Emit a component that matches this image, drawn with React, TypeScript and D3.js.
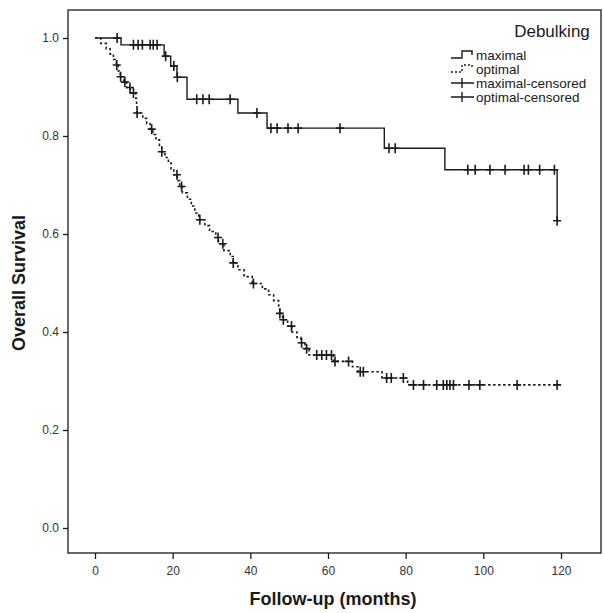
import { useEffect, useRef } from 'react';
import * as d3 from 'd3';

// Kaplan-Meier steps: month of event and survival after it
const maximalEventMonths = [6.7, 17.8, 19.5, 21.1, 23.7, 36.8, 44.3, 74.5, 90.1, 119];
const maximalSurvival = [0.986, 0.963, 0.943, 0.92, 0.875, 0.847, 0.816, 0.775, 0.731, 0.627];
const maximalCensored = [5.7, 9.9, 11.1, 12.2, 14.2, 15.0, 16.0, 18.2, 20.3, 21.2, 26.2, 27.8, 29.4, 34.8, 41.7,
  45.3, 46.9, 49.7, 52.3, 63.1, 75.7, 77.3, 96, 97.9, 101.7, 105.6, 110.5, 111.6, 114.5, 118.3, 119];

const optimalEventMonths = [1.5, 2.9, 3.9, 4.75, 5.5, 6.0, 6.5, 7.4, 8.1, 9.1, 10.5, 10.7, 10.8, 12.3, 13.3, 14.2,
  14.9, 15.7, 16.6, 17.2, 18.0, 18.9, 19.6, 20.3, 21.2, 21.8, 22.5, 23.8, 24.8, 25.7, 26.7, 28.3, 29.5, 31.1,
  31.8, 33.2, 34.8, 35.6, 36.8, 38.4, 40.5, 43.1, 44.7, 46.0, 47.3, 47.6, 48.3, 49.6, 50.7, 52.0, 53.0, 54.1,
  55.1, 61.4, 66.3, 67.7, 73.9, 80.5];
const optimalSurvival = [0.989, 0.978, 0.967, 0.956, 0.945, 0.933, 0.921, 0.91, 0.899, 0.888, 0.877, 0.862, 0.847,
  0.836, 0.825, 0.814, 0.803, 0.792, 0.78, 0.768, 0.756, 0.745, 0.733, 0.721, 0.709, 0.697, 0.684, 0.671, 0.657,
  0.643, 0.629, 0.617, 0.605, 0.593, 0.58, 0.566, 0.554, 0.541, 0.527, 0.513, 0.499, 0.488, 0.476, 0.464, 0.451,
  0.438, 0.425, 0.412, 0.4, 0.389, 0.378, 0.366, 0.353, 0.34, 0.329, 0.319, 0.306, 0.292];
const optimalCensored = [5.6, 6.6, 7.7, 9.0, 9.9, 10.85, 14.6, 17.2, 21.1, 22.3, 27.0, 31.7, 32.9, 35.6, 40.8, 47.6,
  48.5, 50.6, 53.2, 54.5, 57.1, 58.4, 59.6, 60.9, 61.8, 65.3, 68.3, 69.1, 75.1, 76.3, 79.4, 82.0, 84.6, 88.0,
  89.7, 90.6, 91.4, 92.3, 96.3, 99.1, 108.7, 119];

const xTicks = [0, 20, 40, 60, 80, 100, 120];
const yTicks = [0, 0.2, 0.4, 0.6, 0.8, 1.0];
const legendLabels = ['maximal', 'optimal', 'maximal-censored', 'optimal-censored'];

const W = 604;
const H = 613;
const FONT = '"Liberation Sans", Arial, sans-serif';
const INK = '#1a1a1a';

export default function App() {
  const svgRef = useRef<SVGSVGElement>(null);

  useEffect(() => {
    const svg = d3.select(svgRef.current);
    svg.selectAll('*').remove();

    const frame = { left: 68, top: 10, bottom: 553, right: 601 };

    const x = d3.scaleLinear().domain([0, 120]).range([95, 561]);
    const y = d3.scaleLinear().domain([0, 1]).range([528, 38]);

    svg.append('rect')
      .attr('x', frame.left).attr('y', frame.top)
      .attr('width', frame.right - frame.left).attr('height', frame.bottom - frame.top)
      .attr('fill', 'none').attr('stroke', INK).attr('stroke-width', 1.3);

    // Axes
    const yAxis = svg.append('g')
      .attr('transform', `translate(${frame.left},0)`)
      .call(d3.axisLeft(y).tickValues(yTicks).tickFormat(d3.format('.1f')).tickSize(5).tickPadding(4));
    yAxis.select('.domain').remove();
    yAxis.selectAll('line').attr('stroke', INK).attr('stroke-width', 1.3);
    yAxis.selectAll('text').attr('fill', '#333').attr('font-size', '12px').attr('font-family', FONT);

    const xAxis = svg.append('g')
      .attr('transform', `translate(0,${frame.bottom})`)
      .call(d3.axisBottom(x).tickValues(xTicks).tickFormat(d3.format('d')).tickSize(6).tickPadding(7));
    xAxis.select('.domain').remove();
    xAxis.selectAll('line').attr('stroke', INK).attr('stroke-width', 1.3);
    xAxis.selectAll('text').attr('fill', '#333').attr('font-size', '12px').attr('font-family', FONT);

    // Titles
    svg.append('text')
      .attr('x', 333).attr('y', 605)
      .attr('text-anchor', 'middle')
      .attr('font-family', FONT).attr('font-size', '18px').attr('font-weight', 'bold').attr('fill', INK)
      .text('Follow-up (months)');
    svg.append('text')
      .attr('transform', `translate(25,${(38 + 528) / 2}) rotate(-90)`)
      .attr('text-anchor', 'middle')
      .attr('font-family', FONT).attr('font-size', '18px').attr('font-weight', 'bold').attr('fill', INK)
      .text('Overall Survival');

    // Curves
    const series = [
      { months: maximalEventMonths, surv: maximalSurvival, censored: maximalCensored, dash: null, end: 119 },
      { months: optimalEventMonths, surv: optimalSurvival, censored: optimalCensored, dash: '2.5,2.5', end: 119 },
    ];

    const line = d3.line<[number, number]>()
      .x(d => x(d[0]))
      .y(d => y(d[1]))
      .curve(d3.curveStepAfter);

    series.forEach((s) => {
      const pts: [number, number][] = [[0, 1]];
      s.months.forEach((m, i) => pts.push([m, s.surv[i]]));
      const last = pts[pts.length - 1];
      if (last[0] < s.end) pts.push([s.end, last[1]]);

      svg.append('path')
        .attr('d', line(pts))
        .attr('fill', 'none')
        .attr('stroke', INK)
        .attr('stroke-width', s.dash ? 1.6 : 1.4)
        .attr('stroke-dasharray', s.dash);

      const levelAt = (t: number) => {
        let v = 1;
        s.months.forEach((m, i) => { if (m <= t) v = s.surv[i]; });
        return v;
      };

      s.censored.forEach((t) => {
        const cx = x(t);
        const cy = y(levelAt(t));
        svg.append('path')
          .attr('d', `M${cx - 4},${cy}H${cx + 4}M${cx},${cy - 5}V${cy + 5}`)
          .attr('stroke', INK)
          .attr('stroke-width', 1.6)
          .attr('fill', 'none');
      });
    });

    // Legend
    const legend = svg.append('g').attr('transform', 'translate(450,0)');
    legend.append('text')
      .attr('x', 102).attr('y', 37)
      .attr('text-anchor', 'middle')
      .attr('font-family', FONT).attr('font-size', '17px').attr('fill', INK)
      .text('Debulking');

    legendLabels.forEach((label, i) => {
      const ry = 55 + i * 14;
      const row = legend.append('g').attr('transform', `translate(0,${ry})`);
      if (i < 2) {
        row.append('path')
          .attr('d', 'M1,3H12V-4H22V0')
          .attr('fill', 'none').attr('stroke', INK)
          .attr('stroke-width', 1.4)
          .attr('stroke-dasharray', i === 1 ? '2,2' : null);
      } else {
        row.append('path')
          .attr('d', 'M1,0H24M12,-5V5')
          .attr('fill', 'none').attr('stroke', INK).attr('stroke-width', 1.4);
      }
      row.append('text')
        .attr('x', 26).attr('y', 4.5)
        .attr('font-family', FONT).attr('font-size', '13.5px').attr('fill', INK)
        .text(label);
    });
  }, []);

  return (
    <svg
      ref={svgRef}
      width={W}
      height={H}
      style={{ position: 'absolute', left: 0, top: 0, background: '#fff', overflow: 'hidden' }}
    />
  );
}
